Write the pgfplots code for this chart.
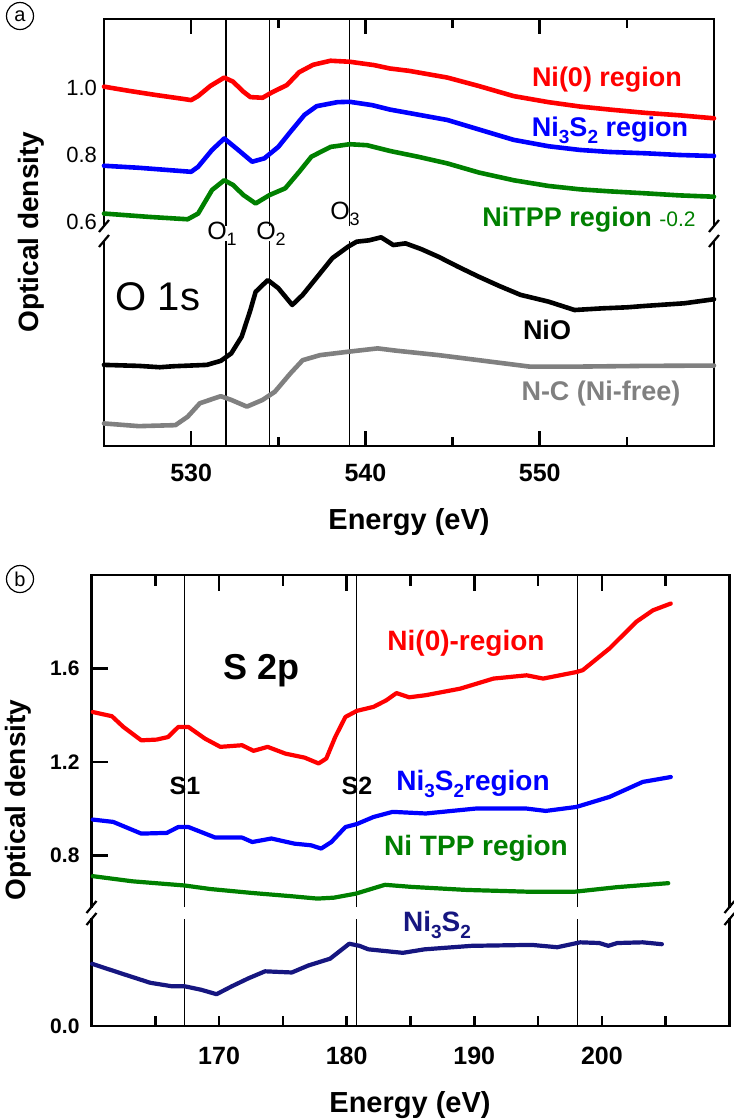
\documentclass[border=0pt]{standalone}
\usepackage{graphicx}
\usepackage{pgfplots}
\pgfplotsset{compat=1.18}
\usepackage{fontspec}
\setmainfont{Liberation Sans}
\setsansfont{Liberation Sans}

\definecolor{odRed}{RGB}{255,0,0}
\definecolor{odBlue}{RGB}{0,0,255}
\definecolor{odGreen}{RGB}{0,128,0}
\definecolor{odGray}{RGB}{128,128,128}
\definecolor{odNavy}{RGB}{22,22,128}

\newcommand\fs[1]{\fontsize{#1}{#1}\selectfont}
\newcommand\lsub[2][9.5]{\raisebox{-0.5ex}{\fs{#1}#2}}

\tikzset{
  spine/.style={line width=1.4pt, line join=miter, line cap=rect},
  refl/.style={line width=0.55pt},
  brk/.style={line width=1.1pt},
  od/.style={line width=2.3pt, line join=round, line cap=round},
  lab/.style={font=\fs{13.5}\bfseries, anchor=base, inner sep=0pt},
}
\pgfplotsset{
  panel/.style={scale only axis, clip=false, axis line style={draw=none},
    tick align=inside, tick style={line width=1.25pt, black}},
}

\begin{document}
\begin{tikzpicture}
\useasboundingbox (0,0) rectangle (367pt,-560pt);

% ---------------- (a) O 1s, upper part ----------------
\begin{axis}[panel, at={(52pt,-113pt)}, anchor=south west,
  width=305pt, height=103.5pt,
  xmin=525, xmax=560, ymin=0.589, ymax=1.204,
  xtick={530,540,550}, minor xtick={535,545,555},
  xtick pos=right, xticklabels={},
  major tick length=7.5pt, minor tick length=4.5pt,
  ytick={0.6,0.8,1.0}, yticklabels={0.6,0.8,1.0},
  ytick pos=left, ytick style={draw=none},
  yticklabel style={font=\fs{11}}]
  \draw[spine] (rel axis cs:0,0) -- (rel axis cs:0,1) -- (rel axis cs:1,1) -- (rel axis cs:1,0);
  \draw[refl] (532,0.589) -- (532,1.204);
  \draw[refl] (534.5,0.589) -- (534.5,1.204);
  \draw[refl] (539.1,0.589) -- (539.1,1.204);
  % Ni(0) region
  \addplot[od, odRed] coordinates {
    (525.0,1.003) (526.5,0.990) (528.0,0.978) (529.5,0.967) (530.0,0.963)
    (530.4,0.975) (531.1,1.005) (531.9,1.030) (532.4,1.018) (533.0,0.988)
    (533.4,0.972) (534.1,0.970) (534.6,0.985) (535.5,1.008) (536.2,1.046)
    (537.0,1.068) (538.0,1.080) (539.1,1.077) (540.5,1.067) (541.4,1.057)
    (542.5,1.050) (544.7,1.030) (546.5,1.005) (548.5,0.975) (550.5,0.957)
    (552.3,0.944) (554.0,0.935) (556.1,0.925) (558.0,0.918) (560.0,0.909)};
  % Ni3S2 region
  \addplot[od, odBlue] coordinates {
    (525.0,0.768) (527.0,0.762) (529.0,0.754) (530.0,0.750) (530.4,0.765)
    (531.2,0.815) (531.9,0.849) (532.7,0.815) (533.5,0.780) (534.2,0.790)
    (535.0,0.824) (535.7,0.869) (536.5,0.919) (537.2,0.945) (538.4,0.957)
    (539.1,0.958) (540.4,0.948) (541.4,0.935) (543.0,0.920) (544.7,0.904)
    (546.5,0.876) (548.5,0.845) (550.5,0.826) (552.3,0.815) (554.0,0.809)
    (556.1,0.805) (558.0,0.800) (560.0,0.797)};
  % NiTPP region, shifted by -0.2
  \addplot[od, odGreen] coordinates {
    (525.0,0.626) (527.6,0.616) (529.8,0.609) (530.4,0.626) (531.2,0.696)
    (531.9,0.725) (532.4,0.711) (533.0,0.681) (533.7,0.656) (534.5,0.681)
    (535.4,0.701) (536.2,0.750) (536.9,0.795) (538.0,0.824) (539.1,0.832)
    (540.1,0.829) (541.4,0.812) (543.0,0.795) (544.7,0.775) (546.5,0.748)
    (548.5,0.725) (550.5,0.708) (552.3,0.698) (554.0,0.692) (556.1,0.686)
    (558.0,0.680) (560.0,0.676)};
\end{axis}

% ---------------- (a) O 1s, lower part ----------------
\begin{axis}[panel, at={(52pt,-223pt)}, anchor=south west,
  width=305pt, height=102.5pt,
  xmin=525, xmax=560, ymin=-0.065, ymax=0.544,
  xtick={530,540,550}, minor xtick={535,545,555},
  xtick pos=left, xticklabels={530,540,550},
  xticklabel style={font=\fs{12.5}\bfseries, yshift=-5.5pt},
  major tick length=7.5pt, minor tick length=4.5pt,
  ytick=\empty]
  \draw[spine] (rel axis cs:0,1) -- (rel axis cs:0,0) -- (rel axis cs:1,0) -- (rel axis cs:1,1);
  \draw[refl] (532,-0.065) -- (532,0.544);
  \draw[refl] (534.5,-0.065) -- (534.5,0.544);
  \draw[refl] (539.1,-0.065) -- (539.1,0.544);
  % NiO
  \addplot[od, black] coordinates {
    (525.0,0.176) (527.0,0.173) (528.2,0.169) (529.0,0.172) (530.9,0.176)
    (531.7,0.188) (532.3,0.210) (532.9,0.260) (533.4,0.339) (533.7,0.393)
    (534.4,0.428) (535.0,0.404) (535.8,0.354) (536.4,0.384) (537.4,0.448)
    (538.1,0.493) (539.0,0.527) (539.5,0.542) (540.2,0.546) (540.9,0.555)
    (541.6,0.532) (542.3,0.537) (543.2,0.520) (544.2,0.497) (545.3,0.468)
    (546.5,0.438) (547.7,0.410) (548.9,0.384) (550.5,0.364) (552.0,0.339)
    (553.6,0.344) (555.0,0.347) (556.0,0.351) (558.3,0.359) (560.0,0.371)};
  % N-C (Ni-free)
  \addplot[od, odGray] coordinates {
    (525.0,0.002) (527.0,-0.006) (529.1,-0.003) (529.8,0.022) (530.5,0.062)
    (531.7,0.083) (532.3,0.072) (533.2,0.052) (534.1,0.072) (534.8,0.096)
    (535.7,0.151) (536.4,0.190) (537.4,0.205) (539.0,0.215) (540.7,0.225)
    (541.8,0.218) (544.2,0.205) (546.5,0.190) (549.4,0.171) (552.4,0.171)
    (556.0,0.173) (560.0,0.174)};
\end{axis}

% ---------------- (b) S 2p, upper part ----------------
\begin{axis}[panel, at={(45.75pt,-453.5pt)}, anchor=south west,
  width=319pt, height=166pt,
  xmin=160, xmax=210, ymin=0.580, ymax=2.0,
  xtick={170,180,190,200}, minor xtick={165,175,185,195,205},
  xtick pos=right, xticklabels={},
  major tick length=8pt, minor tick length=5.5pt,
  ytick={0.8,1.2,1.6}, yticklabels={0.8,1.2,1.6}, ytick pos=left,
  yticklabel style={font=\fs{10.5}\bfseries, xshift=-2.5pt}]
  \draw[spine] (rel axis cs:0,0) -- (rel axis cs:0,1) -- (rel axis cs:1,1) -- (rel axis cs:1,0);
  \draw[refl] (167.3,0.58) -- (167.3,2.0);
  \draw[refl] (180.8,0.58) -- (180.8,2.0);
  \draw[refl] (198.1,0.58) -- (198.1,2.0);
  % Ni(0)-region
  \addplot[od, line width=2.1pt, odRed] coordinates {
    (160.1,1.414) (161.6,1.396) (162.5,1.350) (163.9,1.293) (165.1,1.296)
    (166.0,1.307) (166.8,1.350) (167.6,1.350) (168.9,1.300) (170.1,1.265)
    (171.8,1.272) (172.7,1.248) (173.8,1.265) (175.2,1.236) (176.7,1.219)
    (177.8,1.194) (178.4,1.215) (179.1,1.307) (179.9,1.393) (180.8,1.419)
    (182.1,1.436) (183.1,1.464) (183.9,1.495) (184.9,1.477) (186.2,1.486)
    (188.9,1.514) (191.5,1.557) (194.1,1.571) (195.4,1.557) (198.0,1.585)
    (198.5,1.593) (200.6,1.686) (202.7,1.800) (204.0,1.849) (205.4,1.878)};
  % Ni3S2 region
  \addplot[od, line width=2.1pt, odBlue] coordinates {
    (160.1,0.954) (161.7,0.944) (163.9,0.894) (165.9,0.897) (166.8,0.922)
    (167.6,0.922) (169.7,0.877) (171.8,0.877) (172.6,0.858) (174.1,0.873)
    (175.9,0.851) (177.2,0.844) (178.0,0.830) (178.8,0.858) (179.9,0.922)
    (180.8,0.935) (182.1,0.965) (183.6,0.987) (186.2,0.980) (190.1,1.001)
    (194.1,1.001) (195.6,0.991) (198.0,1.008) (200.6,1.051) (203.2,1.115)
    (205.4,1.136)};
  % NiTPP region
  \addplot[od, line width=2.1pt, odGreen] coordinates {
    (160.1,0.712) (163.2,0.690) (167.3,0.672) (169.3,0.657) (172.6,0.640)
    (175.7,0.626) (177.7,0.616) (179.0,0.620) (180.7,0.637) (183.0,0.675)
    (185.1,0.666) (189.4,0.653) (194.5,0.645) (197.8,0.645) (201.2,0.665)
    (205.2,0.682)};
\end{axis}

% ---------------- (b) S 2p, lower part ----------------
\begin{axis}[panel, at={(45.75pt,-513pt)}, anchor=south west,
  width=319pt, height=53.5pt,
  xmin=160, xmax=210, ymin=0, ymax=0.4577,
  xtick={170,180,190,200}, minor xtick={165,175,185,195,205},
  xtick pos=left, xticklabels={170,180,190,200},
  xticklabel style={font=\fs{12.5}\bfseries, yshift=-7pt},
  major tick length=5pt, minor tick length=5pt,
  ytick={0}, yticklabels={0.0}, ytick pos=left, ytick style={draw=none},
  yticklabel style={font=\fs{10.5}\bfseries, xshift=-2.5pt}]
  \draw[spine] (rel axis cs:0,1) -- (rel axis cs:0,0) -- (rel axis cs:1,0) -- (rel axis cs:1,1);
  \draw[refl] (167.3,0) -- (167.3,0.4577);
  \draw[refl] (180.8,0) -- (180.8,0.4577);
  \draw[refl] (198.1,0) -- (198.1,0.4577);
  % Ni3S2 reference
  \addplot[od, line width=2.1pt, odNavy] coordinates {
    (160.05,0.266) (162.5,0.222) (164.6,0.185) (166.3,0.170) (167.3,0.170)
    (168.6,0.155) (169.8,0.136) (171.0,0.170) (172.3,0.204) (173.6,0.234)
    (175.7,0.229) (177.0,0.259) (178.7,0.288) (180.2,0.352) (181.0,0.343)
    (181.7,0.328) (184.4,0.313) (186.1,0.328) (189.8,0.343) (194.5,0.347)
    (196.5,0.337) (198.3,0.358) (199.8,0.355) (200.5,0.343) (201.2,0.355)
    (203.2,0.358) (204.7,0.350)};
\end{axis}

% ---------------- annotations ----------------
\begin{scope}[x=0.5pt, y=-0.5pt]
  % axis breaks
  \foreach \bx in {104,714} {
    \draw[brk] (\bx-5,232) -- (\bx+5,220);
    \draw[brk] (\bx-5,247) -- (\bx+5,235);
  }
  \foreach \bx in {91.5,729.5} {
    \draw[brk] (\bx-5,913) -- (\bx+5,901);
    \draw[brk] (\bx-5,925) -- (\bx+5,913);
  }
  % panel tags
  \node[draw, circle, line width=0.6pt, minimum size=13.5pt, inner sep=0pt, font=\fs{10}] at (20,16) {a};
  \node[draw, circle, line width=0.6pt, minimum size=13.5pt, inner sep=0pt, font=\fs{10}] at (20,579) {b};
  % axis titles
  \node[font=\fs{14}\bfseries, rotate=90, inner sep=0pt] at (31,232) {Optical density};
  \node[font=\fs{14}\bfseries, rotate=90, inner sep=0pt] at (18,800) {Optical density};
  \node[font=\fs{14.5}\bfseries, anchor=base, inner sep=0pt] at (409,529) {Energy (eV)};
  \node[font=\fs{14.5}\bfseries, anchor=base, inner sep=0pt] at (410,1112) {Energy (eV)};
  % (a) labels
  \node[lab, text=odRed] at (607,86) {Ni(0) region};
  \node[lab, text=odBlue] at (610,136) {Ni\lsub{3}S\lsub{2} region};
  \node[lab, anchor=base west, text=odGreen] at (482,226) {NiTPP region {\fs{10.5}\mdseries -0.2}};
  \node[lab, text=black] at (547,339) {NiO};
  \node[lab, text=odGray] at (601,400) {N-C (Ni-free)};
  \node[font=\fs{20}, anchor=base, inner sep=0pt] at (158,310) {O 1s};
  \node[font=\fs{12.5}, anchor=base, inner sep=0pt] at (222,239) {O\lsub[9]{1}};
  \node[font=\fs{12.5}, anchor=base, inner sep=0pt] at (271,239) {O\lsub[9]{2}};
  \node[font=\fs{12.5}, anchor=base, inner sep=0pt] at (345,219) {O\lsub[9]{3}};
  % (b) labels
  \node[font=\fs{18}\bfseries, anchor=base, inner sep=0pt] at (262,679) {S 2p};
  \node[lab, font=\fs{14}\bfseries, text=odRed] at (466,650) {Ni(0)-region};
  \node[lab, font=\fs{14}\bfseries, text=odBlue] at (473,790) {Ni\lsub{3}S\lsub{2}region};
  \node[lab, font=\fs{14}\bfseries, text=odGreen] at (476,855) {Ni TPP region};
  \node[lab, font=\fs{12.5}\bfseries] at (185,794) {S1};
  \node[lab, font=\fs{12.5}\bfseries] at (357,794) {S2};
  \node[lab, font=\fs{14}\bfseries, text=odNavy] at (437,931) {Ni\lsub{3}S\lsub{2}};
\end{scope}
\end{tikzpicture}
\end{document}
